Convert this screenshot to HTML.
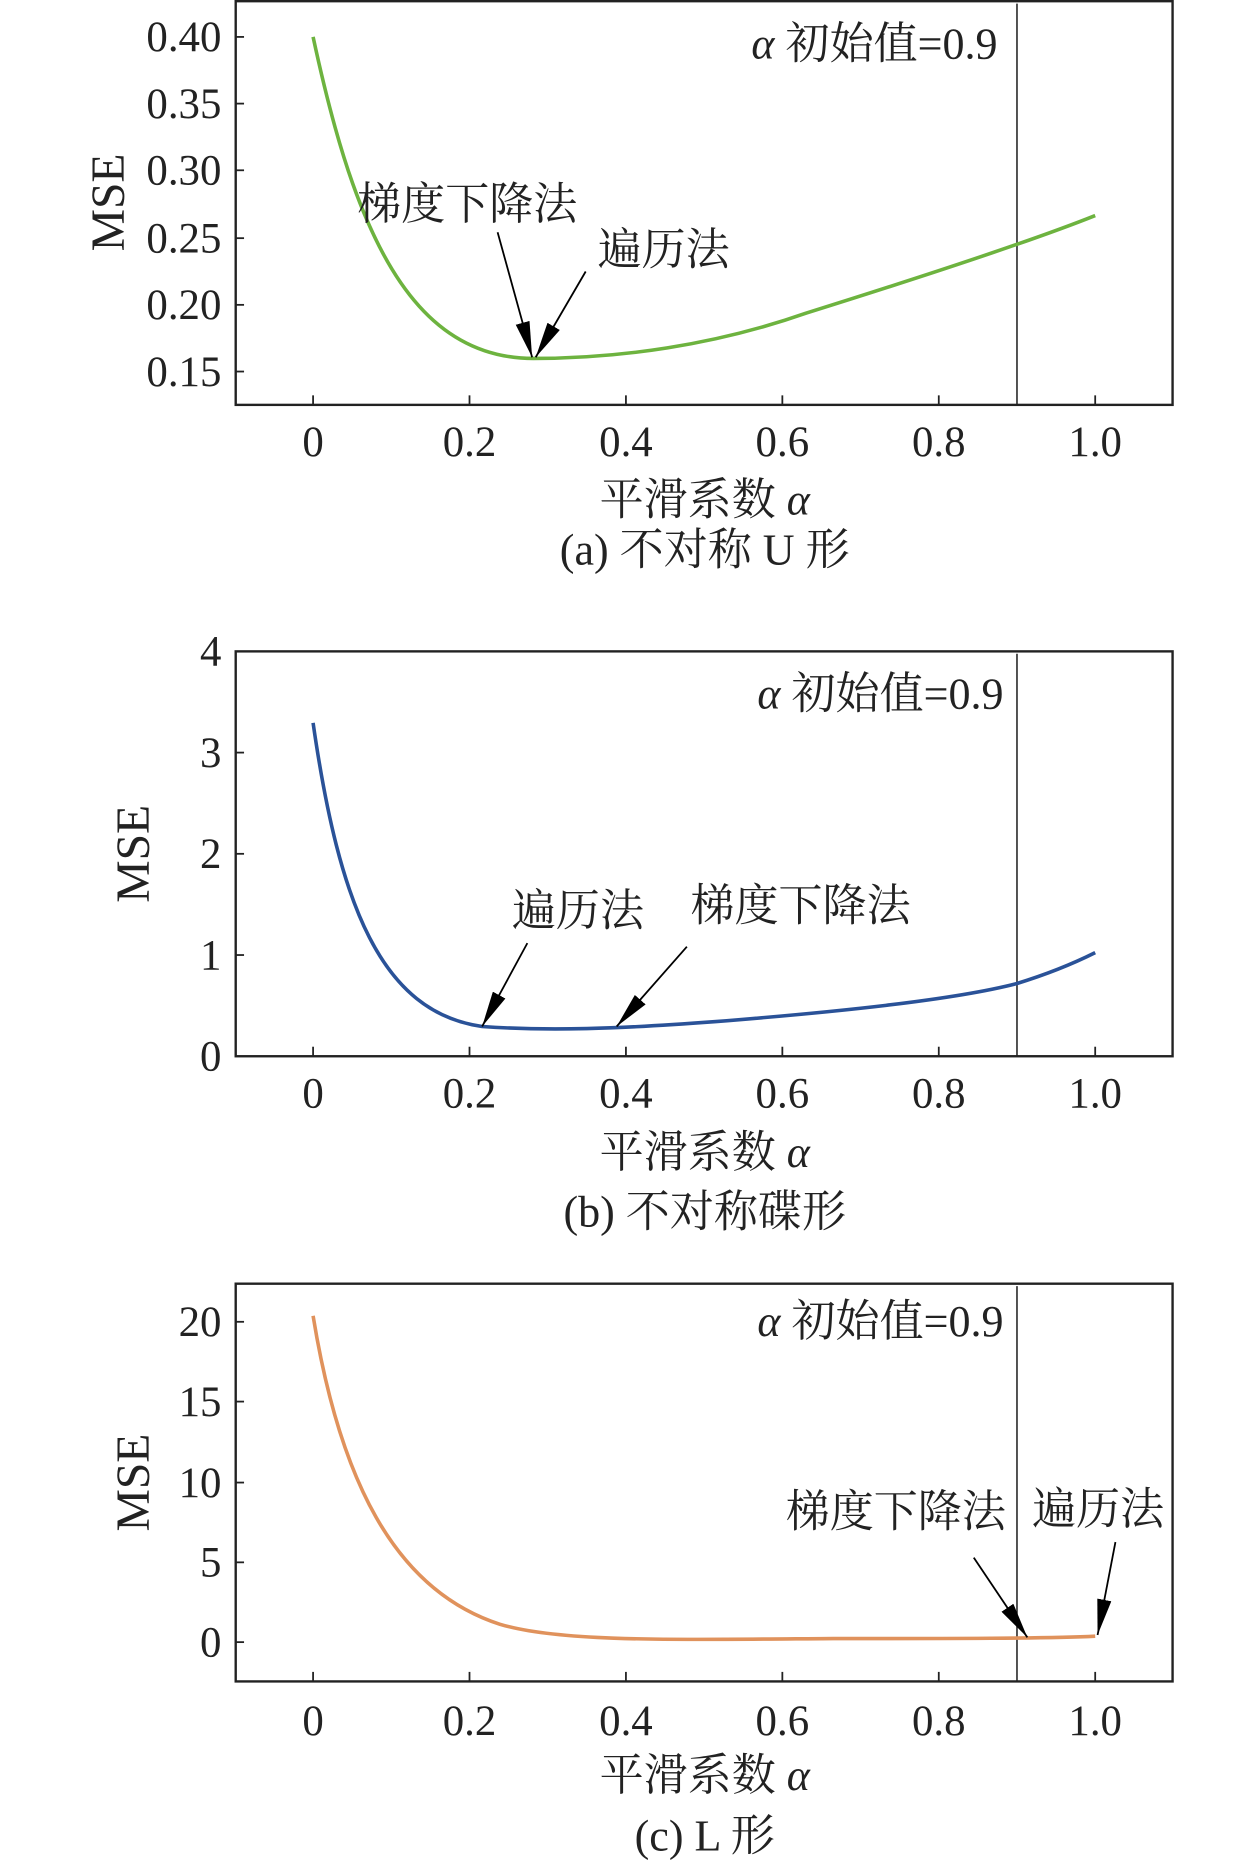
<!DOCTYPE html>
<html><head><meta charset="utf-8"><style>
html,body{margin:0;padding:0;background:#fff;}
svg{display:block;}
text{font-family:"Liberation Serif","Noto Serif CJK SC",serif;fill:#222;}
.t{font-size:36px;}
.c{font-size:37px;}
.m{font-size:40px;}
</style></head><body>
<svg width="1259" height="1866" viewBox="0 0 1057.6 1567" preserveAspectRatio="none" xmlns="http://www.w3.org/2000/svg">
<defs>
<marker id="ah" viewBox="0 0 30 12" refX="30" refY="6" markerWidth="30" markerHeight="12" markerUnits="userSpaceOnUse" orient="auto">
<path d="M0,0 L30,6 L0,12 Z" fill="#000"/></marker>
</defs>

<!-- Panel a -->
<rect x="198" y="1" width="787" height="339" fill="none" stroke="#222" stroke-width="2"/>
<g stroke="#222" stroke-width="1.5">
<line x1="198" y1="31" x2="205" y2="31"/><line x1="198" y1="87" x2="205" y2="87"/><line x1="198" y1="143" x2="205" y2="143"/><line x1="198" y1="200" x2="205" y2="200"/><line x1="198" y1="256" x2="205" y2="256"/><line x1="198" y1="312" x2="205" y2="312"/>
<line x1="263" y1="340" x2="263" y2="332"/><line x1="394.4" y1="340" x2="394.4" y2="332"/><line x1="525.8" y1="340" x2="525.8" y2="332"/><line x1="657.2" y1="340" x2="657.2" y2="332"/><line x1="788.6" y1="340" x2="788.6" y2="332"/><line x1="920" y1="340" x2="920" y2="332"/>
<line x1="854.3" y1="3" x2="854.3" y2="340" stroke-width="1.3"/>
</g>
<g class="t" text-anchor="end"><text x="186" y="43">0.40</text><text x="186" y="99">0.35</text><text x="186" y="155">0.30</text><text x="186" y="212">0.25</text><text x="186" y="268">0.20</text><text x="186" y="324">0.15</text></g>
<g class="t" text-anchor="middle"><text x="263" y="383">0</text><text x="394.4" y="383">0.2</text><text x="525.8" y="383">0.4</text><text x="657.2" y="383">0.6</text><text x="788.6" y="383">0.8</text><text x="920" y="383">1.0</text></g>
<text class="m" transform="translate(104,170) rotate(-90)" text-anchor="middle">MSE</text>
<text class="c" x="838" y="49" text-anchor="end"><tspan font-style="italic">α</tspan> 初始值=0.9</text>
<path d="M263,31 C280,110 305,205 352,257 C378,286 410,301 448,301 C520,301 600,290 677,263 C760,237 860,205 920,181" fill="none" stroke="#6db33f" stroke-width="3"/>
<text class="c" x="300" y="184">梯度下降法</text>
<text class="c" x="502" y="222">遍历法</text>
<line x1="418" y1="195" x2="447" y2="300" stroke="#000" stroke-width="1.5" marker-end="url(#ah)"/>
<line x1="492" y1="228" x2="450" y2="300" stroke="#000" stroke-width="1.5" marker-end="url(#ah)"/>
<text class="c" x="592" y="432" text-anchor="middle">平滑系数 <tspan font-style="italic">α</tspan></text>
<text class="c" x="592" y="474" text-anchor="middle">(a) 不对称 U 形</text>

<!-- Panel b -->
<rect x="198" y="547" width="787" height="340" fill="none" stroke="#222" stroke-width="2"/>
<g stroke="#222" stroke-width="1.5">
<line x1="198" y1="632" x2="205" y2="632"/><line x1="198" y1="717" x2="205" y2="717"/><line x1="198" y1="802" x2="205" y2="802"/>
<line x1="263" y1="887" x2="263" y2="879"/><line x1="394.4" y1="887" x2="394.4" y2="879"/><line x1="525.8" y1="887" x2="525.8" y2="879"/><line x1="657.2" y1="887" x2="657.2" y2="879"/><line x1="788.6" y1="887" x2="788.6" y2="879"/><line x1="920" y1="887" x2="920" y2="879"/>
<line x1="854.3" y1="549" x2="854.3" y2="887" stroke-width="1.3"/>
</g>
<g class="t" text-anchor="end"><text x="186" y="559">4</text><text x="186" y="644">3</text><text x="186" y="729">2</text><text x="186" y="814">1</text><text x="186" y="899">0</text></g>
<g class="t" text-anchor="middle"><text x="263" y="930">0</text><text x="394.4" y="930">0.2</text><text x="525.8" y="930">0.4</text><text x="657.2" y="930">0.6</text><text x="788.6" y="930">0.8</text><text x="920" y="930">1.0</text></g>
<text class="m" transform="translate(125,717) rotate(-90)" text-anchor="middle">MSE</text>
<text class="c" x="843" y="595" text-anchor="end"><tspan font-style="italic">α</tspan> 初始值=0.9</text>
<path d="M263,607 C285,760 320,850 405,862 C460,866 520,864 600,858 C700,850 800,840 854,826 C880,818 900,810 920,800" fill="none" stroke="#2a5298" stroke-width="3"/>
<text class="c" x="430" y="777">遍历法</text>
<text class="c" x="580" y="773">梯度下降法</text>
<line x1="443" y1="792" x2="405" y2="862" stroke="#000" stroke-width="1.5" marker-end="url(#ah)"/>
<line x1="577" y1="795" x2="518" y2="862" stroke="#000" stroke-width="1.5" marker-end="url(#ah)"/>
<text class="c" x="592" y="980" text-anchor="middle">平滑系数 <tspan font-style="italic">α</tspan></text>
<text class="c" x="592" y="1030" text-anchor="middle">(b) 不对称碟形</text>

<!-- Panel c -->
<rect x="198" y="1078" width="787" height="334" fill="none" stroke="#222" stroke-width="2"/>
<g stroke="#222" stroke-width="1.5">
<line x1="198" y1="1110" x2="205" y2="1110"/><line x1="198" y1="1177" x2="205" y2="1177"/><line x1="198" y1="1245" x2="205" y2="1245"/><line x1="198" y1="1312" x2="205" y2="1312"/><line x1="198" y1="1379" x2="205" y2="1379"/>
<line x1="263" y1="1412" x2="263" y2="1404"/><line x1="394.4" y1="1412" x2="394.4" y2="1404"/><line x1="525.8" y1="1412" x2="525.8" y2="1404"/><line x1="657.2" y1="1412" x2="657.2" y2="1404"/><line x1="788.6" y1="1412" x2="788.6" y2="1404"/><line x1="920" y1="1412" x2="920" y2="1404"/>
<line x1="854.3" y1="1080" x2="854.3" y2="1412" stroke-width="1.3"/>
</g>
<g class="t" text-anchor="end"><text x="186" y="1122">20</text><text x="186" y="1189">15</text><text x="186" y="1257">10</text><text x="186" y="1324">5</text><text x="186" y="1391">0</text></g>
<g class="t" text-anchor="middle"><text x="263" y="1457">0</text><text x="394.4" y="1457">0.2</text><text x="525.8" y="1457">0.4</text><text x="657.2" y="1457">0.6</text><text x="788.6" y="1457">0.8</text><text x="920" y="1457">1.0</text></g>
<text class="m" transform="translate(125,1245) rotate(-90)" text-anchor="middle">MSE</text>
<text class="c" x="843" y="1122" text-anchor="end"><tspan font-style="italic">α</tspan> 初始值=0.9</text>
<path d="M263,1105 C285,1240 330,1335 420,1364 C470,1379 560,1377 700,1376 C800,1376 880,1376 920,1374" fill="none" stroke="#e0925c" stroke-width="3"/>
<text class="c" x="660" y="1282">梯度下降法</text>
<text class="c" x="867" y="1280">遍历法</text>
<line x1="818" y1="1308" x2="863" y2="1375" stroke="#000" stroke-width="1.5" marker-end="url(#ah)"/>
<line x1="937" y1="1295" x2="922" y2="1373" stroke="#000" stroke-width="1.5" marker-end="url(#ah)"/>
<text class="c" x="592" y="1503" text-anchor="middle">平滑系数 <tspan font-style="italic">α</tspan></text>
<text class="c" x="592" y="1554" text-anchor="middle">(c) L 形</text>
</svg>
</body></html>
